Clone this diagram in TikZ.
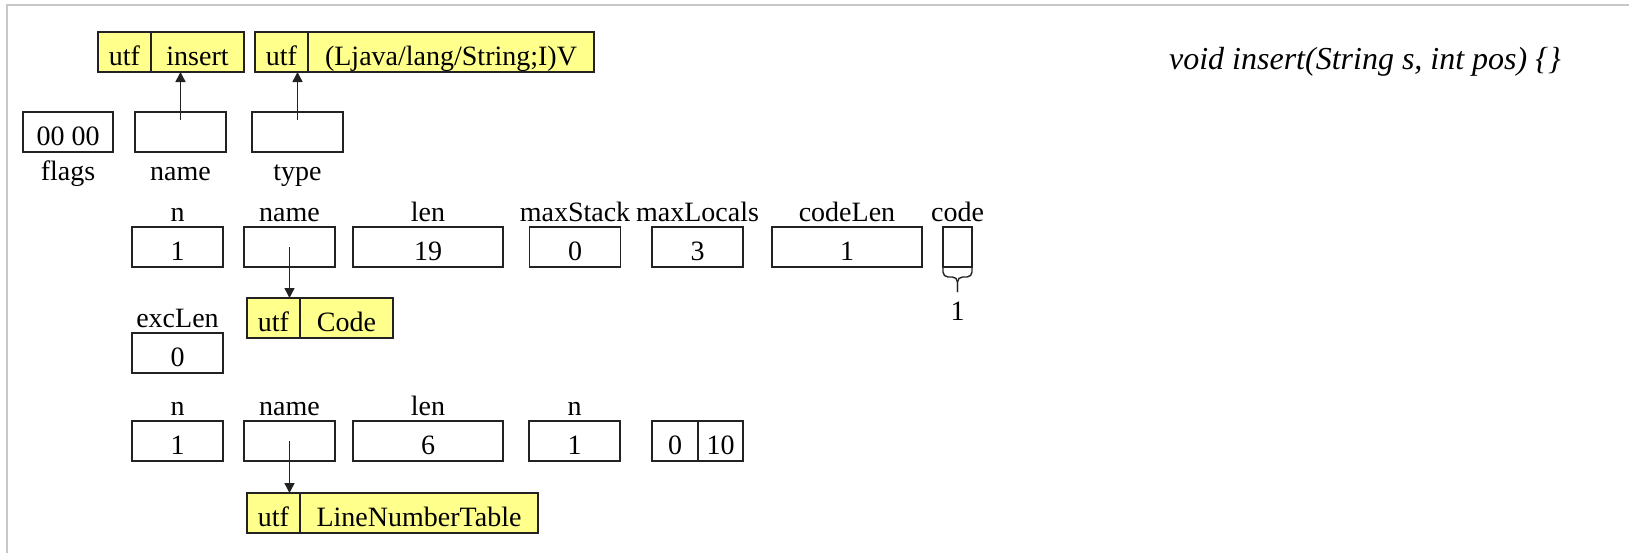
\documentclass[tikz,border=0pt]{standalone}
\usepackage{fontspec}
\setmainfont{Liberation Serif}
\usepackage{xcolor}
\usepackage{tikz}
\usetikzlibrary{arrows.meta,positioning,calc}
\definecolor{ink}{HTML}{222222}
\definecolor{utfyellow}{HTML}{FFFF8C}
\definecolor{framegray}{HTML}{C8C8C8}
\tikzset{
  >={Triangle[length=5pt,width=5pt]},
  every node/.style={font=\fontsize{14}{16}\selectfont,text=black},
  cell/.style={draw=ink,line width=0.7pt,minimum width=45.5pt,minimum height=20pt,inner sep=0pt,outer sep=0pt,text height=15pt,text depth=1.5pt},
  widecell/.style={cell,minimum width=75pt},
  utfcell/.style={cell,fill=utfyellow,minimum width=26.5pt},
  lbl/.style={inner sep=0pt,text height=10pt,text depth=2.5pt},
  ptr/.style={->,line width=0.7pt,draw=ink},
  brc/.style={line width=0.7pt,draw=ink,rounded corners=2.5pt},
  sig/.style={font=\fontsize{16}{18}\selectfont\itshape}
}
\begin{document}
\begin{tikzpicture}[x=0.5pt,y=-0.5pt]
  \useasboundingbox (0,0) rectangle (1629,553);
  \draw[framegray,line width=1pt] (1629,5) -- (7,5) -- (7,553);

  % constant pool entries
  \node[utfcell] (insTag) at (124.5,52) {utf};
  \node[utfcell,minimum width=46.5pt,right=0pt of insTag] (insVal) {insert};
  \node[utfcell] (typeTag) at (281.5,52) {utf};
  \node[utfcell,minimum width=143pt,right=0pt of typeTag] (typeVal) {(Ljava/lang/String;I)V};
  \node[sig] (sigText) at (1365,62) {void insert(String s, int pos) \{\}};

  % method_info
  \node[cell,minimum width=45pt] (flags) at (68,132) {00 00};
  \node[cell] (nameA) at (180.5,132) {};
  \node[cell] (typeA) at (297.5,132) {};
  \node[lbl,below=4pt of flags] {flags};
  \node[lbl,below=4pt of nameA] {name};
  \node[lbl,below=4pt of typeA] {type};
  \draw[ptr] ($(nameA.center)+(0,6pt)$) -- (nameA.center |- insVal.south);
  \draw[ptr] ($(typeA.center)+(0,6pt)$) -- (typeA.center |- typeTag.south);

  % Code attribute
  \node[cell] (codeN) at (177.5,247) {1};
  \node[cell] (codeName) at (289.5,247) {};
  \node[widecell] (codeLenAttr) at (428,247) {19};
  \node[cell] (maxStack) at (575,247) {0};
  \node[cell] (maxLocals) at (697.5,247) {3};
  \node[widecell] (codeLen) at (847,247) {1};
  \node[cell,minimum width=14.5pt] (code) at (957.5,247) {};
  \node[lbl,above=0pt of codeN] {n};
  \node[lbl,above=0pt of codeName] {name};
  \node[lbl,above=0pt of codeLenAttr] {len};
  \node[lbl,above=0pt of maxStack] {maxStack};
  \node[lbl,above=0pt of maxLocals] {maxLocals};
  \node[lbl,above=0pt of codeLen] {codeLen};
  \node[lbl,above=0pt of code] {code};
  \coordinate (braceTip) at ($(code.south)+(0,-12.5pt)$);
  \draw[brc] (code.south west) -- ++(0,-5pt) -| (braceTip);
  \draw[brc] (code.south east) -- ++(0,-5pt) -| (braceTip);
  \node[lbl,below=4pt of braceTip] (codeSize) {1};

  \node[utfcell] (codeTag) at (273.5,318) {utf};
  \node[utfcell,minimum width=46.5pt,right=0pt of codeTag] (codeVal) {Code};
  \draw[ptr] (codeName.center) -- (codeName.center |- codeTag.north);

  \node[cell] (excLen) at (177.5,353) {0};
  \node[lbl,above=0pt of excLen] {excLen};

  % LineNumberTable attribute
  \node[cell] (lntN) at (177.5,441) {1};
  \node[cell] (lntName) at (289.5,441) {};
  \node[widecell] (lntLen) at (428,441) {6};
  \node[cell] (lineN) at (574.5,441) {1};
  \node[cell,minimum width=23pt] (startPc) at (675,441) {0};
  \node[cell,minimum width=22.5pt,right=0pt of startPc] (lineNo) {10};
  \node[lbl,above=0pt of lntN] {n};
  \node[lbl,above=0pt of lntName] {name};
  \node[lbl,above=0pt of lntLen] {len};
  \node[lbl,above=0pt of lineN] {n};

  \node[utfcell] (lntTag) at (273.5,513) {utf};
  \node[utfcell,minimum width=119pt,right=0pt of lntTag] (lntVal) {LineNumberTable};
  \draw[ptr] (lntName.center) -- (lntName.center |- lntTag.north);
\end{tikzpicture}
\end{document}
